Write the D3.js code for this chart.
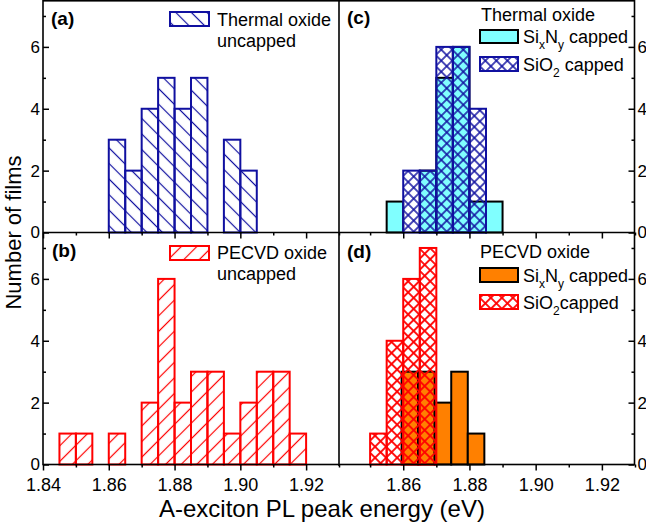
<!DOCTYPE html>
<html><head><meta charset="utf-8">
<script src="https://cdn.jsdelivr.net/npm/d3@7"></script>
<style>
html,body{margin:0;padding:0;background:#fff;}
svg{display:block;font-family:"Liberation Sans",Arial,sans-serif;}
</style></head><body>
<svg id="chart" width="646" height="524"></svg>
<script>
// ---------- data ----------
const binWidth = 0.005;
// (a) thermal oxide, uncapped
const thermalUncappedBins   = [1.860, 1.865, 1.870, 1.875, 1.880, 1.885, 1.890, 1.895, 1.900];
const thermalUncappedCounts = [3, 2, 4, 5, 4, 5, 0, 3, 2];
// (b) PECVD oxide, uncapped
const pecvdUncappedBins   = [1.845, 1.850, 1.855, 1.860, 1.865, 1.870, 1.875, 1.880, 1.885, 1.890, 1.895, 1.900, 1.905, 1.910, 1.915];
const pecvdUncappedCounts = [1, 1, 0, 1, 0, 2, 6, 2, 3, 3, 1, 2, 3, 3, 1];
// (c) thermal oxide, SixNy capped / SiO2 capped
const thermalSiNBins    = [1.855, 1.860, 1.865, 1.870, 1.875, 1.880, 1.885];
const thermalSiNCounts  = [1, 0, 2, 5, 6, 1, 1];
const thermalSiO2Bins   = [1.860, 1.865, 1.870, 1.875, 1.880];
const thermalSiO2Counts = [2, 2, 6, 6, 4];
// (d) PECVD oxide, SixNy capped / SiO2 capped
const pecvdSiNBins    = [1.8595, 1.8645, 1.8695, 1.8745, 1.8795];
const pecvdSiNCounts  = [3, 3, 2, 3, 1];
const pecvdSiO2Bins   = [1.850, 1.855, 1.860, 1.865];
const pecvdSiO2Counts = [1, 4, 6, 7];
// ticks
const xTicksLeft  = [1.84, 1.86, 1.88, 1.90, 1.92];
const xTicksRight = [1.86, 1.88, 1.90, 1.92];
const xMinorTicks = [1.85, 1.87, 1.89, 1.91, 1.93];
const yTicks      = [0, 2, 4, 6];
const yMinorTicks = [1, 3, 5, 7];
const xDomain = [1.84, 1.93];
const yDomain = [0, 7.5];

// ---------- setup ----------
const svg = d3.select("#chart");
const defs = svg.append("defs");
const blue = "#1010a0", red = "#ff0000", cyan = "#80ffff", orange = "#ff8000";

function hatch(id, color, angle, size, width) {
  const p = defs.append("pattern").attr("id", id).attr("patternUnits", "userSpaceOnUse")
    .attr("width", size).attr("height", size).attr("patternTransform", `rotate(${angle})`);
  p.append("line").attr("x1", size / 2).attr("y1", -1).attr("x2", size / 2).attr("y2", size + 1)
    .attr("stroke", color).attr("stroke-width", width);
}
function cross(id, color, size, width) {
  const p = defs.append("pattern").attr("id", id).attr("patternUnits", "userSpaceOnUse")
    .attr("width", size).attr("height", size).attr("patternTransform", "rotate(45)");
  p.append("line").attr("x1", size / 2).attr("y1", -1).attr("x2", size / 2).attr("y2", size + 1)
    .attr("stroke", color).attr("stroke-width", width);
  p.append("line").attr("y1", size / 2).attr("x1", -1).attr("y2", size / 2).attr("x2", size + 1)
    .attr("stroke", color).attr("stroke-width", width);
}
hatch("hatchBlue", blue, -45, 11, 1.2);
hatch("hatchRed", red, 45, 11, 1.2);
cross("crossBlue", blue, 7.8, 1.5);
cross("crossRed", red, 7.8, 1.8);

const xL = d3.scaleLinear().domain(xDomain).range([43, 339]);
const xR = d3.scaleLinear().domain(xDomain).range([337, 635]);
const yT = d3.scaleLinear().domain(yDomain).range([232.5, 0.5]);
const yB = d3.scaleLinear().domain(yDomain).range([464.5, 232.5]);

function drawBars(xs, ys, bins, counts, fill, stroke, sw, dash) {
  svg.append("g").selectAll("rect")
    .data(bins.map((b, i) => ({ b, c: counts[i] })).filter(d => d.c > 0))
    .join("rect")
    .attr("x", d => xs(d.b)).attr("width", d => xs(d.b + binWidth) - xs(d.b))
    .attr("y", d => ys(d.c)).attr("height", d => ys(0) - ys(d.c))
    .attr("fill", fill).attr("stroke", stroke).attr("stroke-width", sw);
}

// bars
drawBars(xL, yT, thermalUncappedBins, thermalUncappedCounts, "url(#hatchBlue)", blue, 2);
drawBars(xL, yB, pecvdUncappedBins, pecvdUncappedCounts, "url(#hatchRed)", red, 2);
drawBars(xR, yT, thermalSiNBins, thermalSiNCounts, cyan, "#000", 2);
drawBars(xR, yT, thermalSiO2Bins, thermalSiO2Counts, "url(#crossBlue)", blue, 2);
drawBars(xR, yB, pecvdSiNBins, pecvdSiNCounts, orange, "#000", 2);
drawBars(xR, yB, pecvdSiO2Bins, pecvdSiO2Counts, "url(#crossRed)", red, 2);

// axes
const fontFam = '"Liberation Sans",Arial,sans-serif';
function styleAxis(g) {
  g.select(".domain").remove();
  g.selectAll("line").attr("stroke", "#000").attr("stroke-width", 1.5);
  g.attr("font-family", fontFam).attr("font-size", 18);
  g.selectAll("text").attr("fill", "#000");
}
function bottomAxis(xs, y, ticks, labels) {
  const ax = d3.axisBottom(xs).tickValues(ticks).tickSize(6).tickPadding(8)
    .tickFormat(labels ? d3.format(".2f") : "");
  svg.append("g").attr("transform", `translate(0,${y})`).call(ax).call(styleAxis);
  svg.append("g").attr("transform", `translate(0,${y})`)
    .call(d3.axisBottom(xs).tickValues(xMinorTicks).tickSize(3).tickFormat(""))
    .call(styleAxis);
}
bottomAxis(xL, 232.5, xTicksLeft, false);
bottomAxis(xR, 232.5, xTicksRight, false);
bottomAxis(xL, 464.5, xTicksLeft, true);
bottomAxis(xR, 464.5, xTicksRight, true);

function yAxis(ys, x, side) {
  const make = side === "left" ? d3.axisLeft : d3.axisRight;
  svg.append("g").attr("transform", `translate(${x},0)`)
    .call(make(ys).tickValues(yTicks).tickSize(-6).tickPadding(3).tickFormat(d3.format("d")))
    .call(styleAxis).attr("font-size", 17);
  svg.append("g").attr("transform", `translate(${x},0)`)
    .call(make(ys).tickValues(yMinorTicks).tickSize(-3).tickFormat(""))
    .call(styleAxis);
}
yAxis(yT, 43, "left");
yAxis(yB, 43, "left");
yAxis(yT, 634.5, "right");
yAxis(yB, 634.5, "right");

// frame
const frame = svg.append("g").attr("stroke", "#000").attr("stroke-width", 1.6).attr("fill", "none");
frame.append("rect").attr("x", 43).attr("y", 0.8).attr("width", 634.5 - 43).attr("height", 464.5 - 0.8);
frame.append("line").attr("x1", 43).attr("x2", 634.5).attr("y1", 232.5).attr("y2", 232.5);
frame.append("line").attr("x1", 339).attr("x2", 339).attr("y1", 0.8).attr("y2", 466);

// panel labels
const plab = [["(a)", 51, 25], ["(b)", 52, 257], ["(c)", 347, 24], ["(d)", 347, 258]];
svg.append("g").selectAll("text").data(plab).join("text")
  .attr("x", d => d[1]).attr("y", d => d[2]).attr("font-size", 19).attr("font-weight", "bold")
  .text(d => d[0]);

// legends
const lg = svg.append("g").attr("font-size", 18).attr("fill", "#000");
function lrect(x, y, w, h, fill, stroke) {
  lg.append("rect").attr("x", x).attr("y", y).attr("width", w).attr("height", h).attr("fill", "#fff");
  lg.append("rect").attr("x", x).attr("y", y).attr("width", w).attr("height", h)
    .attr("fill", fill).attr("stroke", stroke).attr("stroke-width", 2);
}
function ltext(x, y, s) { return lg.append("text").attr("x", x).attr("y", y).text(s); }
function subText(x, y, parts) {
  const t = lg.append("text").attr("x", x).attr("y", y);
  let shifted = 0;
  parts.forEach(([s, sub]) => {
    const sp = t.append("tspan").text(s);
    if (sub) { sp.attr("font-size", 12).attr("dy", 6 - shifted); shifted = 6; }
    else if (shifted) { sp.attr("dy", -shifted); shifted = 0; }
  });
}
lrect(170, 12, 39, 14, "url(#hatchBlue)", blue);
ltext(217, 26, "Thermal oxide"); ltext(217, 47, "uncapped");
lrect(170, 246, 39, 14, "url(#hatchRed)", red);
ltext(217, 259, "PECVD oxide"); ltext(217, 280, "uncapped");

ltext(481, 21, "Thermal oxide");
lrect(480, 30, 38, 13, cyan, "#000");
subText(523, 43, [["Si"], ["x", true], ["N"], ["y", true], [" capped"]]);
lrect(480, 57, 38, 14, "url(#crossBlue)", blue);
subText(523, 71, [["SiO"], ["2", true], [" capped"]]);

ltext(480, 258, "PECVD oxide");
lrect(480, 268, 38, 14, orange, "#000");
subText(523, 282, [["Si"], ["x", true], ["N"], ["y", true], [" capped"]]);
lrect(480, 295, 38, 14, "url(#crossRed)", red);
subText(523, 309, [["SiO"], ["2", true], ["capped"]]);

// axis titles
svg.append("text").attr("x", 322).attr("y", 517).attr("text-anchor", "middle")
  .attr("font-size", 24).text("A-exciton PL peak energy (eV)");
svg.append("text").attr("transform", "translate(21,232.5) rotate(-90)").attr("text-anchor", "middle")
  .attr("font-size", 22).text("Number of films");
</script>
</body></html>
